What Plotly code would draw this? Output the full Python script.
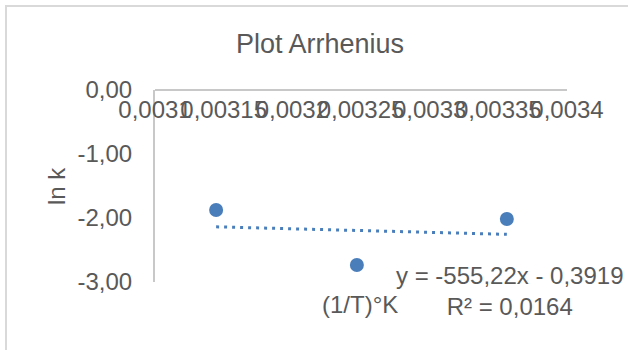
import plotly.graph_objects as go

# Data
inv_T = [0.0031445, 0.0032470, 0.0033562]   # (1/T) in 1/K
ln_k = [-1.875, -2.734, -2.016]

# Linear trendline coefficients as printed on the chart
slope = -555.22
intercept = -0.3919
r_squared = 0.0164

x_ticks = [0.0031, 0.00315, 0.0032, 0.00325, 0.0033, 0.00335, 0.0034]
x_ticklabels = ["0,0031", "0,00315", "0,0032", "0,00325", "0,0033", "0,00335", "0,0034"]
y_ticks = [0, -1, -2, -3]
y_ticklabels = ["0,00", "-1,00", "-2,00", "-3,00"]

trend_x = [min(inv_T), max(inv_T)]
trend_y = [slope * v + intercept for v in trend_x]

FONT = "Liberation Sans, Arial, sans-serif"
GREY = "#595959"
BLUE = "#4a7ebb"

fig = go.Figure()
fig.add_trace(go.Scatter(
    x=trend_x, y=trend_y, mode="lines",
    line=dict(color=BLUE, width=3, dash="3px,5px"),
    hoverinfo="skip", showlegend=False,
))
fig.add_trace(go.Scatter(
    x=inv_T, y=ln_k, mode="markers",
    marker=dict(color=BLUE, size=14),
    showlegend=False,
))

W, H = 628, 350
L, R, T, B = 155, 61, 90, 68
pw, ph = W - L - R, H - T - B

def px(x):
    return (x - L) / pw

def py(y):
    return (H - B - y) / ph

fig.update_layout(
    width=W, height=H,
    margin=dict(l=L, r=R, t=T, b=B, pad=0, autoexpand=False),
    paper_bgcolor="white", plot_bgcolor="white",
    font=dict(family=FONT, color=GREY, size=24),
    title=dict(text="Plot Arrhenius", x=320 / W, xref="container", xanchor="center",
               y=1 - 44 / H, yref="container", yanchor="middle",
               font=dict(family=FONT, size=27, color=GREY)),
    xaxis=dict(
        range=[0.0031, 0.0034], side="bottom", anchor="free", position=1,
        tickvals=x_ticks, ticktext=x_ticklabels, tickangle=0,
        ticks="", ticklabelstandoff=-2, automargin=False,
        showline=True, linecolor="#c8c8c8", linewidth=2,
        showgrid=False, zeroline=False,
        tickfont=dict(family=FONT, size=24, color=GREY),
    ),
    yaxis=dict(
        range=[-3, 0],
        tickvals=y_ticks, ticktext=y_ticklabels,
        ticks="", ticklabelstandoff=16, automargin=False,
        showline=True, linecolor="#c8c8c8", linewidth=2,
        showgrid=False, zeroline=False,
        tickfont=dict(family=FONT, size=24, color=GREY),
    ),
    shapes=[dict(type="rect", xref="paper", yref="paper",
                 x0=px(6), x1=px(700), y0=py(6), y1=py(400),
                 line=dict(color="#d9d9d9", width=2), fillcolor="rgba(0,0,0,0)",
                 layer="below")],
    annotations=[
        dict(text="ln k", textangle=-90, xref="paper", yref="paper",
             x=px(56), y=py(186), xanchor="center", yanchor="middle", showarrow=False,
             font=dict(family=FONT, size=24, color=GREY)),
        dict(text="(1/T)°K", xref="paper", yref="paper",
             x=px(360), y=py(304), xanchor="center", yanchor="middle", showarrow=False,
             font=dict(family=FONT, size=24, color=GREY)),
        dict(text="y = -555,22x - 0,3919<br>R² = 0,0164", xref="paper", yref="paper",
             x=px(509), y=py(291), xanchor="center", yanchor="middle",
             showarrow=False, align="center",
             font=dict(family=FONT, size=24, color=GREY)),
    ],
)

fig.write_html("out.html", config={"displayModeBar": False},
               post_script="document.body.style.margin='0';")
